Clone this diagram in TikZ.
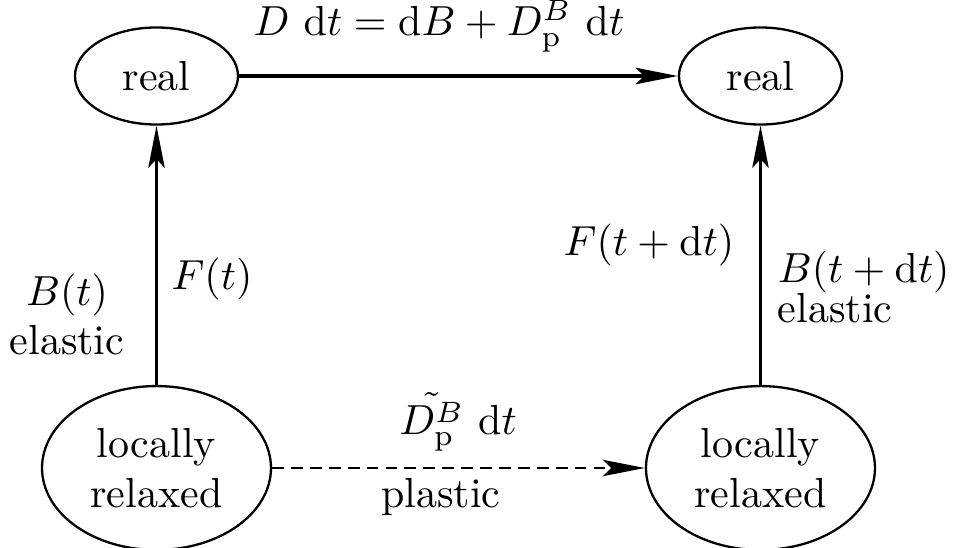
\documentclass[tikz,border=0pt]{standalone}
\usetikzlibrary{arrows.meta,shapes.geometric}
\begin{document}
\begin{tikzpicture}[x=0.238pt,y=-0.238pt,
  ell/.style={ellipse, draw, line width=0.55pt, inner sep=0pt, align=center},
  topell/.style={ell, minimum width=38.8pt, minimum height=23.1pt},
  botell/.style={ell, minimum width=54.5pt, minimum height=39pt},
  lbl/.style={inner sep=0pt, anchor=base},
  tipstyle/.style={-{Stealth[length=10pt,width=3.9pt,inset=2pt]}},
  thinarr/.style={tipstyle, line width=0.55pt},
  thickarr/.style={tipstyle, line width=0.95pt},
  dasharr/.style={thinarr, dash pattern=on 2.8pt off 1.7pt}]
\useasboundingbox (0,0) rectangle (955,548);
\node[topell] (r1) at (156.5,76) {real};
\node[topell] (r2) at (760.5,76) {real};
\node[botell] (l1) at (156.5,468) {locally\\relaxed};
\node[botell] (l2) at (760.5,468) {locally\\relaxed};
\draw[thickarr] (r1) -- (r2);
\draw[dasharr] (l1) -- (l2);
\draw[thinarr] (l1) -- (r1);
\draw[thinarr] (l2) -- (r2);
\node[lbl] (t1) at (439,36) {$D\ \mathrm{d}t = \mathrm{d}B + D_{\mathrm{p}}^B\ \mathrm{d}t$};
\node[lbl] (t2) at (67,305) {$B(t)$};
\node[lbl] (t3) at (67,354) {elastic};
\node[lbl] (t4) at (212,289) {$F(t)$};
\node[lbl] (t5) at (649,255) {$F(t+\mathrm{d}t)$};
\node[lbl, anchor=base west] (t6) at (777,283) {$B(t+\mathrm{d}t)$};
\node[lbl, anchor=base west] (t7) at (777,322) {elastic};
\node[lbl] (t8) at (458,435) {$\tilde{D_{\mathrm{p}}^B}\ \mathrm{d}t$};
\node[lbl] (t9) at (441,508) {plastic};
\end{tikzpicture}
\end{document}
